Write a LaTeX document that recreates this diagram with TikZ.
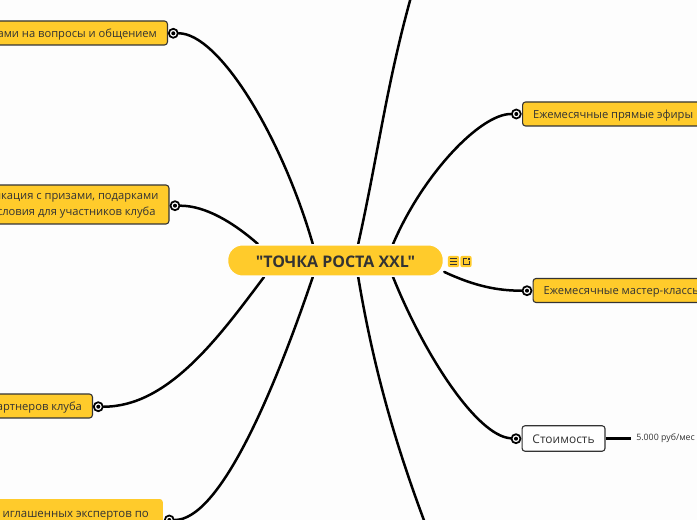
\documentclass[tikz,border=0pt]{standalone}
\usepackage{fontspec}
\setmainfont{Open Sans}
\newfontfamily\rootfont{Open Sans}
\usepackage{xcolor}
\usetikzlibrary{backgrounds,calc}
\definecolor{mapy}{HTML}{FFCB2B}
\definecolor{inkc}{HTML}{333333}
\definecolor{softbg}{HTML}{FDFDFD}
\tikzset{
  conn/.style={line width=0.05cm,black,line cap=round},
  topic/.style={draw=inkc,line width=0.022cm,rounded corners=0.06cm,fill=mapy,text=inkc,align=center,
    inner xsep=0.21cm,inner ysep=0.04cm,minimum height=0.48cm,text depth=0pt,font=\fontsize{6.36}{8.6}\selectfont},
  dot/.style={circle,draw=black,fill=white,line width=0.035cm,minimum size=0.18cm,inner sep=0pt,
    path picture={\fill[black] (path picture bounding box.center) circle (0.04cm);}},
  ico/.style={fill=mapy,rounded corners=0.04cm,minimum size=0.225cm,inner sep=0pt}
}
\begin{document}
\begin{tikzpicture}[x=0.02cm,y=-0.02cm]
\useasboundingbox (0,0) rectangle (697,520);
% central topic
\node[draw=softbg,line width=0.03cm,fill=mapy,rounded corners=0.3cm,text=inkc,minimum width=4.32cm,minimum height=0.63cm,inner sep=0pt,text height=0.3cm,text depth=0pt,font=\fontsize{9.1}{11}\selectfont\rootfont\bfseries] (root) at (335.5,260.5) {"ТОЧКА РОСТА XXL"};
% left side
\node[topic,anchor=east] (answers) at (168,33) {ами на вопросы и общением};
\node[topic,anchor=east,minimum height=0.78cm] (contest) at (169.5,204.5) {икация с призами, подарками\\словия для участников клуба};
\node[topic,anchor=east] (partners) at (93,406) {артнеров клуба};
\node[topic,anchor=east,draw=none,inner xsep=0.28cm,minimum height=0.6cm,font=\fontsize{6.5}{8.6}\selectfont] (experts) at (163.3,514) {иглашенных экспертов по};
\node[dot] (dotanswers) at (173.3,33.3) {};
\node[dot] (dotcontest) at (175,205.7) {};
\node[dot] (dotpartners) at (98.3,406.7) {};
\node[dot] (dotexperts) at (169.3,520) {};
% right side
\node[topic,anchor=west] (live) at (522,114) {Ежемесячные прямые эфиры};
\node[topic,anchor=west] (classes) at (532.5,290.5) {Ежемесячные мастер-классы};
\node[topic,anchor=west,fill=white,inner xsep=0.2cm,minimum width=1.66cm,minimum height=0.51cm,text height=0.21cm,font=\fontsize{6.8}{9}\selectfont] (price) at (521.5,438.5) {Стоимость};
\node[text=inkc,anchor=west,inner xsep=0.1cm,inner ysep=0pt,font=\fontsize{5}{6}\selectfont] (sum) at (631,438.5) {5.000 руб/мес};
\node[dot] (dotlive) at (516.3,114) {};
\node[dot] (dotclasses) at (527,290.7) {};
\node[dot] (dotprice) at (516,438.7) {};
% small icons
\node[ico] (icolist) at (453.5,261.5) {};
\node[ico] (icolink) at (466,261.5) {};
\foreach \dy in {-3,0,3}
  \draw[inkc,line width=0.02cm] ($(icolist)+(-3.5,\dy)$) -- ($(icolist)+(3.5,\dy)$);
\draw[inkc,line width=0.016cm] ($(icolink)+(0.5,-3)$) -- ($(icolink)+(-3,-3)$) -- ($(icolink)+(-3,3)$) -- ($(icolink)+(3,3)$) -- ($(icolink)+(3,0)$);
\fill[inkc] ($(icolink)+(1.5,-3.5)$) rectangle ($(icolink)+(3.5,-1.5)$);
\coordinate (topend) at (411,-3);
\coordinate (botend) at (425,523);
\begin{scope}[on background layer]
\fill[softbg] (0,0) rectangle (697,520);
\draw[conn] (dotanswers) .. controls +(45,0) and +(-32,-110) .. (root.144);
\draw[conn] (dotcontest) .. controls +(30,0) and +(-25,-22) .. (root.168);
\draw[conn] (dotpartners) .. controls +(70,0) and +(-45,60) .. (root.-167);
\draw[conn] (dotexperts) .. controls +(50,0) and +(-40,118) .. (root.-144);
\draw[conn] (root.36) .. controls +(20,-90) and +(-25,90) .. (topend);
\draw[conn] (root.16.2) .. controls +(30,-70) and +(-36,0) .. (dotlive);
\draw[conn] (root.-6) .. controls +(30,14) and +(-30,0) .. (dotclasses);
\draw[conn] (root.-16.2) .. controls +(30,75) and +(-40,-3) .. (dotprice);
\draw[conn] (root.-36) .. controls +(15,90) and +(-30,-80) .. (botend);
\draw[conn,line cap=butt] (price) -- (sum);
\end{scope}
\end{tikzpicture}
\end{document}
